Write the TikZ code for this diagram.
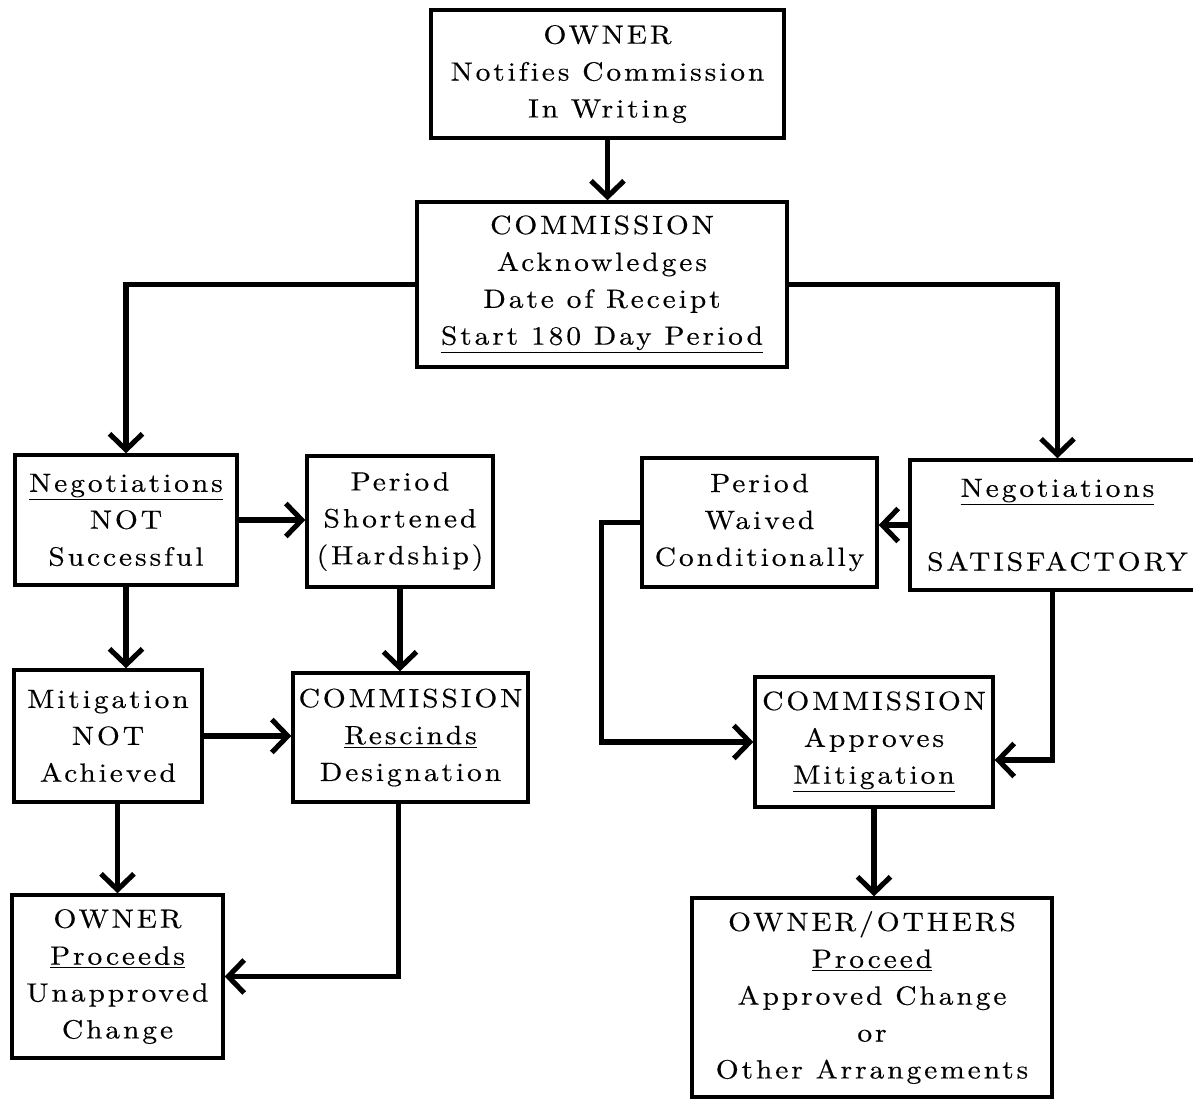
\documentclass[tikz,border=0pt]{standalone}
\usepackage{fontspec}
\newfontfamily\typfont{lmroman10-regular.otf}[LetterSpace=11,FakeStretch=1.12,FakeBold=0.35,Ligatures=NoCommon]
\usetikzlibrary{arrows.meta}
\begin{document}
\begin{tikzpicture}[x=0.02cm,y=-0.02cm,
  box/.style={draw, line width=1.9pt, align=center, inner sep=1pt,
    font=\typfont\fontsize{15}{21}\selectfont},
  arr/.style={line width=2.9pt, -{Straight Barb[length=0.32cm,width=0.66cm]}}]
\useasboundingbox[fill=white] (0,0) rectangle (1193,1101);

\node[box, minimum width=353*0.02cm, minimum height=128*0.02cm] (owner) at (607.5,74)
  {OWNER\\Notifies Commission\\In Writing};
\node[box, minimum width=370*0.02cm, minimum height=165*0.02cm] (comm) at (602,284.5)
  {COMMISSION\\Acknowledges\\Date of Receipt\\\underline{Start 180 Day Period}};
\node[box, minimum width=222*0.02cm, minimum height=130*0.02cm] (negnot) at (126,520)
  {\underline{Negotiations}\\NOT\\Successful};
\node[box, minimum width=186*0.02cm, minimum height=131*0.02cm] (pshort) at (400,521.5)
  {Period\\Shortened\\(Hardship)};
\node[box, minimum width=235*0.02cm, minimum height=129*0.02cm] (pwaive) at (759.5,522.5)
  {Period\\Waived\\Conditionally};
\node[box, minimum width=295*0.02cm, minimum height=130*0.02cm] (negsat) at (1057.5,525)
  {\underline{Negotiations}\\\mbox{}\\SATISFACTORY};
\node[box, minimum width=188*0.02cm, minimum height=132*0.02cm] (mitnot) at (108,736)
  {Mitigation\\NOT\\Achieved};
\node[box, minimum width=235*0.02cm, minimum height=129*0.02cm] (rescind) at (410.5,737.5)
  {COMMISSION\\\underline{Rescinds}\\Designation};
\node[box, minimum width=238*0.02cm, minimum height=130*0.02cm] (approve) at (874,742)
  {COMMISSION\\Approves\\\underline{Mitigation}};
\node[box, minimum width=211*0.02cm, minimum height=163*0.02cm] (ownerproc) at (117.5,976.5)
  {OWNER\\\underline{Proceeds}\\Unapproved\\Change};
\node[box, minimum width=360*0.02cm, minimum height=199*0.02cm] (others) at (872,997.5)
  {OWNER/OTHERS\\\underline{Proceed}\\Approved Change\\or\\Other Arrangements};

\draw[arr] (owner.south) -- (owner.south |- comm.north);
\draw[arr] (comm.west) -| (negnot.north);
\draw[arr] (comm.east) -| (negsat.north);
\draw[arr] (negnot.east) -- (negnot.east -| pshort.west);
\draw[arr] (negsat.west) -- (negsat.west -| pwaive.east);
\draw[arr] (negnot.south) -- (negnot.south |- mitnot.north);
\draw[arr] (pshort.south) -- (pshort.south |- rescind.north);
\draw[arr] (mitnot.east) -- (mitnot.east -| rescind.west);
\draw[arr] (ownerproc.north |- mitnot.south) -- (ownerproc.north);
\draw[arr] ([xshift=-0.24cm]rescind.south) |- (ownerproc.east);
\draw[arr] (pwaive.west) -- ++(-39,0) |- (approve.west);
\draw[arr] ([xshift=-0.1cm]negsat.south) |- ([yshift=-0.36cm]approve.east);
\draw[arr] (approve.south) -- (approve.south |- others.north);
\end{tikzpicture}
\end{document}
